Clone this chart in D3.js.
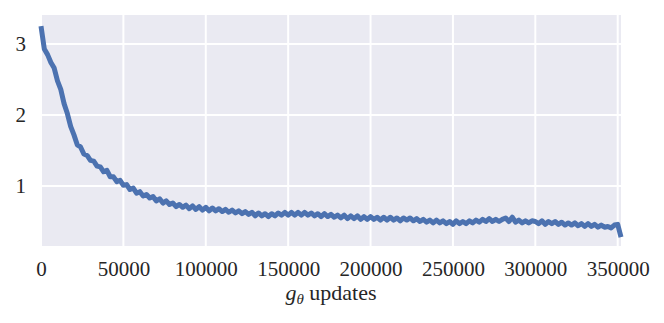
<!DOCTYPE html>
<html>
<head>
<meta charset="utf-8">
<script src="https://cdn.jsdelivr.net/npm/d3@7"></script>
<style>
  body { margin: 0; background: #fff; }
  text { font-family: "Liberation Serif", "DejaVu Serif", serif; fill: #262626; }
</style>
</head>
<body>
<div id="chart"></div>
<script>
// generator loss, one value every 2000 updates
var stepSize = 2000;
var loss = [
  3.25, 2.93, 2.85, 2.74, 2.66, 2.48, 2.36, 2.16, 2.02, 1.84,
  1.72, 1.58, 1.55, 1.45, 1.43, 1.36, 1.35, 1.28, 1.27, 1.20,
  1.22, 1.13, 1.13, 1.06, 1.08, 1.01, 1.02, 0.95, 0.97, 0.90,
  0.92, 0.86, 0.88, 0.83, 0.85, 0.79, 0.82, 0.76, 0.79, 0.74,
  0.76, 0.71, 0.74, 0.70, 0.73, 0.68, 0.72, 0.67, 0.71, 0.66,
  0.70, 0.65, 0.69, 0.65, 0.68, 0.64, 0.67, 0.63, 0.66, 0.62,
  0.65, 0.61, 0.64, 0.60, 0.63, 0.58, 0.62, 0.58, 0.61, 0.57,
  0.61, 0.58, 0.62, 0.59, 0.63, 0.59, 0.63, 0.59, 0.63, 0.59,
  0.63, 0.59, 0.62, 0.58, 0.61, 0.57, 0.61, 0.57, 0.60, 0.56,
  0.59, 0.55, 0.59, 0.54, 0.58, 0.54, 0.58, 0.53, 0.57, 0.53,
  0.57, 0.53, 0.56, 0.52, 0.56, 0.52, 0.56, 0.52, 0.55, 0.51,
  0.55, 0.52, 0.55, 0.51, 0.54, 0.50, 0.53, 0.49, 0.52, 0.48,
  0.52, 0.48, 0.51, 0.47, 0.50, 0.46, 0.51, 0.47, 0.50, 0.47,
  0.51, 0.48, 0.52, 0.49, 0.53, 0.50, 0.54, 0.50, 0.53, 0.50,
  0.53, 0.55, 0.50, 0.56, 0.49, 0.52, 0.48, 0.51, 0.48, 0.51,
  0.50, 0.47, 0.51, 0.46, 0.50, 0.47, 0.50, 0.46, 0.49, 0.45,
  0.48, 0.45, 0.48, 0.44, 0.47, 0.43, 0.47, 0.43, 0.46, 0.42,
  0.45, 0.42, 0.43, 0.41, 0.45, 0.46, 0.28
];
var xTicks = [0, 50000, 100000, 150000, 200000, 250000, 300000, 350000];
var yTicks = [1, 2, 3];

var W = 664, H = 323;
var margin = {top: 15, right: 43, bottom: 77, left: 41},
    width = W - margin.left - margin.right,
    height = H - margin.top - margin.bottom;

var x = d3.scaleLinear().domain([0, 352000]).range([0, width]);
var y = d3.scaleLinear().domain([0.155, 3.408]).range([height, 0]);

var svg = d3.select("#chart").append("svg")
    .attr("width", W)
    .attr("height", H);

var g = svg.append("g")
    .attr("transform", "translate(" + margin.left + "," + margin.top + ")");

// seaborn darkgrid background
g.append("rect")
    .attr("width", width)
    .attr("height", height)
    .attr("fill", "#EAEAF2");

// grid lines
g.selectAll(".vgrid").data(xTicks).enter().append("line")
    .attr("x1", function(d) { return x(d); })
    .attr("x2", function(d) { return x(d); })
    .attr("y1", 0).attr("y2", height)
    .attr("stroke", "#fff").attr("stroke-width", 2);

g.selectAll(".hgrid").data(yTicks).enter().append("line")
    .attr("y1", function(d) { return y(d); })
    .attr("y2", function(d) { return y(d); })
    .attr("x1", 0).attr("x2", width)
    .attr("stroke", "#fff").attr("stroke-width", 2);

// axes, ticks hidden like seaborn
var xAxis = g.append("g")
    .attr("transform", "translate(0," + height + ")")
    .call(d3.axisBottom(x).tickValues(xTicks).tickFormat(d3.format("d")).tickSize(0).tickPadding(15));
var yAxis = g.append("g")
    .call(d3.axisLeft(y).tickValues(yTicks).tickFormat(d3.format("d")).tickSize(0).tickPadding(15));

[xAxis, yAxis].forEach(function(a) {
  a.select(".domain").remove();
  a.selectAll("text")
      .style("font-family", "'Liberation Serif', serif")
      .style("font-size", "21px")
      .attr("fill", "#262626");
});

// the loss curve
var line = d3.line()
    .x(function(d, i) { return x(i * stepSize); })
    .y(function(d) { return y(d); });

g.append("path")
    .datum(loss)
    .attr("fill", "none")
    .attr("stroke", "#4C72B0")
    .attr("stroke-width", 5)
    .attr("stroke-linejoin", "round")
    .attr("d", line);

// x label: g_theta updates
var lbl = svg.append("text")
    .attr("x", margin.left + width / 2)
    .attr("y", 300)
    .attr("text-anchor", "middle")
    .style("font-size", "22px");
lbl.append("tspan").style("font-style", "italic").text("g");
lbl.append("tspan").style("font-style", "italic").style("font-size", "15px")
    .attr("dy", 4).text("θ");
lbl.append("tspan").attr("dy", -4).text(" updates");
</script>
</body>
</html>
